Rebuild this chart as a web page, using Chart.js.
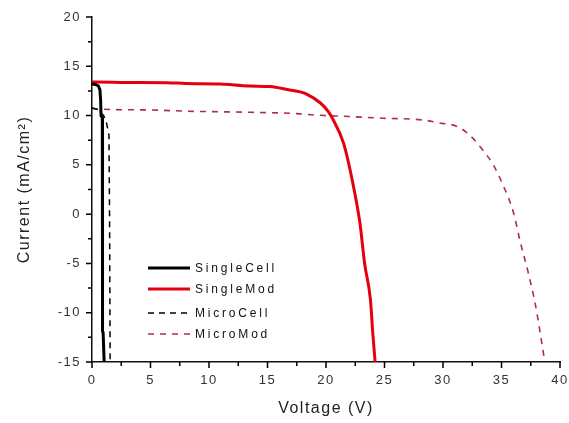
<!DOCTYPE html>
<html>
<head>
<meta charset="utf-8">
<script src="https://cdn.jsdelivr.net/npm/chart.js@4.4.1/dist/chart.umd.min.js"></script>
<style>
  html, body { margin: 0; padding: 0; background: #fff; }
  #wrap { width: 569px; height: 423px; }
</style>
</head>
<body>
<div id="wrap"><canvas id="ivChart"></canvas></div>
<script>
/* ── I-V curves: voltage (V) vs current density (mA/cm2) ── */
const singleCellV = [0, 0.3, 0.55, 0.68, 0.74, 0.77, 0.82, 0.88, 0.9, 0.95, 1.02, 1.04];
const singleCellI = [13.2, 13.15, 13.0, 12.6, 11.5, 10.0, 9.9, 9.8, -11.9, -12.0, -12.0, -15];

const singleModV = [0, 0.3, 3, 6.4, 8, 10.9, 13.5, 15.2, 16.9, 17.8, 18.3, 19.5, 20.2, 20.6, 21.5, 22.3, 22.9, 23.3, 23.8, 24.0, 24.2];
const singleModI = [13.4, 13.4, 13.36, 13.34, 13.25, 13.2, 13.0, 12.95, 12.6, 12.4, 12.2, 11.3, 10.4, 9.6, 7.2, 3.1, -0.9, -5.0, -8.7, -12.1, -15];

const microCellV = [0, 0.5, 1.0, 1.25, 1.45, 1.5, 1.55];
const microCellI = [10.8, 10.6, 10.0, 9.2, 8.0, 0, -15];

const microModV = [0, 2, 5, 8, 13.5, 17.5, 19, 22, 24.9, 28.3, 29.7, 31.2, 32.3, 33.4, 34.3, 35.0, 36.0, 36.6, 37.3, 37.9, 38.3, 38.7];
const microModI = [10.7, 10.6, 10.57, 10.45, 10.33, 10.2, 10.06, 9.9, 9.73, 9.55, 9.25, 8.9, 8.0, 6.5, 5.0, 3.3, 0.25, -2.8, -6.0, -9.2, -12.0, -15];

const seriesNames = ['SingleCell', 'SingleMod', 'MicroCell', 'MicroMod'];

const xTicks = [0, 5, 10, 15, 20, 25, 30, 35, 40];
const yTicks = [-15, -10, -5, 0, 5, 10, 15, 20];
const xMinor = [2.5, 7.5, 12.5, 17.5, 22.5, 27.5, 32.5, 37.5];
const yMinor = [-12.5, -7.5, -2.5, 2.5, 7.5, 12.5, 17.5];

const RED   = '#e3000f';
const WINE  = '#b02c4a';
const BLACK = '#000';
const FONT  = '"Liberation Sans", Arial, sans-serif';

const toPoints = (xs, ys) => xs.map((x, i) => ({ x, y: ys[i] }));

function curve(label, xs, ys, color, width, dash, smooth) {
  return {
    label,
    data: toPoints(xs, ys),
    borderColor: color,
    backgroundColor: color,
    borderWidth: width,
    borderDash: dash || [],
    pointRadius: 0,
    cubicInterpolationMode: smooth ? 'monotone' : 'default',
    tension: 0,
    fill: false,
  };
}

/* wide letter spacing for all axis text */
const spacedText = {
  id: 'spacedText',
  beforeDraw(chart) { chart.ctx.letterSpacing = '1.5px'; },
  afterDraw(chart) { chart.ctx.letterSpacing = '0px'; }
};

/* outward tick marks: long on labelled values, short in between */
const tickMarks = {
  id: 'tickMarks',
  afterDraw(chart) {
    const { ctx, chartArea } = chart;
    const { x, y } = chart.scales;
    const xb = chartArea.bottom, yl = chartArea.left;
    ctx.save();
    ctx.setLineDash([]);
    ctx.strokeStyle = '#000';
    ctx.lineWidth = 1.5;
    ctx.beginPath();
    xTicks.forEach(v => { const p = x.getPixelForValue(v); ctx.moveTo(p, xb); ctx.lineTo(p, xb + 6); });
    xMinor.forEach(v => { const p = x.getPixelForValue(v); ctx.moveTo(p, xb); ctx.lineTo(p, xb + 4); });
    yTicks.forEach(v => { const p = y.getPixelForValue(v); ctx.moveTo(yl, p); ctx.lineTo(yl - 6, p); });
    yMinor.forEach(v => { const p = y.getPixelForValue(v); ctx.moveTo(yl, p); ctx.lineTo(yl - 4, p); });
    ctx.stroke();
    ctx.restore();
  }
};

/* legend drawn inside the plot area, lower left */
const innerLegend = {
  id: 'innerLegend',
  afterDraw(chart) {
    const { ctx, chartArea } = chart;
    const x0 = chartArea.left + 56, x1 = x0 + 42;
    const rows = [chartArea.top + 251, chartArea.top + 272, chartArea.top + 296, chartArea.top + 317];
    ctx.save();
    ctx.font = '12px ' + FONT;
    ctx.textBaseline = 'middle';
    ctx.letterSpacing = '2.8px';
    chart.data.datasets.forEach((ds, i) => {
      ctx.strokeStyle = ds.borderColor;
      ctx.lineWidth = ds.borderWidth;
      ctx.setLineDash(ds.borderDash);
      ctx.beginPath();
      ctx.moveTo(x0, rows[i]);
      ctx.lineTo(x1, rows[i]);
      ctx.stroke();
      ctx.setLineDash([]);
      ctx.fillStyle = '#111';
      ctx.fillText(ds.label, x1 + 5, rows[i] + 1);
    });
    ctx.restore();
  }
};

const axisCommon = {
  border: { display: true, color: '#111', width: 1.5 },
  grid: { display: false, drawTicks: false },
};

new Chart(document.getElementById('ivChart'), {
  type: 'line',
  data: {
    datasets: [
      curve(seriesNames[0], singleCellV, singleCellI, BLACK, 3),
      curve(seriesNames[1], singleModV, singleModI, RED, 3, null, true),
      curve(seriesNames[2], microCellV, microCellI, BLACK, 1.5, [6, 5]),
      curve(seriesNames[3], microModV, microModI, WINE, 1.6, [6, 6], true),
    ]
  },
  options: {
    responsive: true,
    maintainAspectRatio: false,
    animation: false,
    layout: { padding: { top: 17, right: 9, left: 0, bottom: 0 } },
    plugins: { legend: { display: false }, tooltip: { enabled: false } },
    scales: {
      x: {
        type: 'linear',
        min: 0, max: 40,
        ...axisCommon,
        afterBuildTicks: s => { s.ticks = xTicks.map(v => ({ value: v })); },
        ticks: {
          color: '#333', font: { family: FONT, size: 13 }, padding: 11, maxRotation: 0, autoSkip: false
        },
        title: { display: true, text: 'Voltage (V)', color: '#222', font: { family: FONT, size: 16 }, padding: { bottom: 5 } },
        afterFit: s => { s.height = 61; s.paddingLeft = 0; s.paddingRight = 0; }
      },
      y: {
        type: 'linear',
        min: -15, max: 20,
        ...axisCommon,
        afterBuildTicks: s => { s.ticks = yTicks.map(v => ({ value: v })); },
        ticks: {
          color: '#333', font: { family: FONT, size: 13 }, padding: 11, autoSkip: false
        },
        title: { display: true, text: 'Current (mA/cm²)', color: '#222', font: { family: FONT, size: 16 }, padding: { top: 15 } },
        afterFit: s => { s.width = 92; s.paddingTop = 0; s.paddingBottom = 0; }
      }
    }
  },
  plugins: [spacedText, tickMarks, innerLegend]
});
</script>
</body>
</html>
